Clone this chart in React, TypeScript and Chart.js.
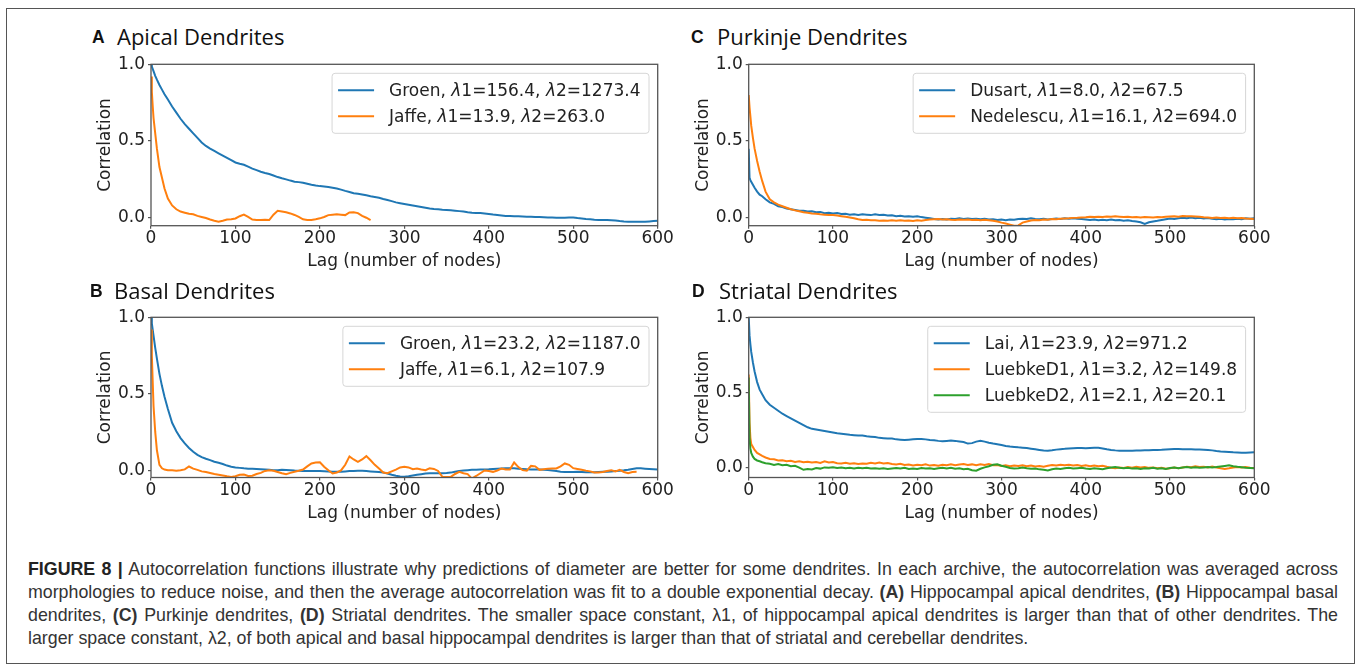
import React, { useEffect, useRef } from "react";
import { Chart, registerables } from "chart.js";

Chart.register(...registerables);

const BLUE = "#1f77b4";
const ORANGE = "#ff7f0e";
const GREEN = "#2ca02c";
const TEXT = "#222222";
const SPINE = "#555555";

// x positions (lag, number of nodes) shared by all series
const LAGS = [
  0, 1, 2, 3, 5, 7, 10, 13, 16, 20,
  25, 30, 35, 40, 45, 50, 55, 60, 65, 70,
  75, 80, 85, 90, 95, 100, 105, 110, 115, 120,
  125, 130, 135, 140, 145, 150, 155, 160, 165, 170,
  175, 180, 185, 190, 195, 200, 205, 210, 215, 220,
  225, 230, 235, 240, 245, 250, 255, 260, 265, 270,
  275, 280, 285, 290, 295, 300, 305, 310, 315, 320,
  325, 330, 335, 340, 345, 350, 355, 360, 365, 370,
  375, 380, 385, 390, 395, 400, 405, 410, 415, 420,
  425, 430, 435, 440, 445, 450, 455, 460, 465, 470,
  475, 480, 485, 490, 495, 500, 505, 510, 515, 520,
  525, 530, 535, 540, 545, 550, 555, 560, 565, 570,
  575, 580, 585, 590, 595, 600,
];

const X_TICKS = [0, 100, 200, 300, 400, 500, 600];
const Y_TICKS = [0, 0.5, 1.0];

// Panel A: Apical dendrites
const A_GROEN = [
  1.0, 0.985, 0.97, 0.955, 0.925, 0.9, 0.865, 0.835, 0.805, 0.77,
  0.725, 0.685, 0.645, 0.61, 0.58, 0.55, 0.52, 0.49, 0.468, 0.45,
  0.435, 0.42, 0.405, 0.39, 0.375, 0.36, 0.352, 0.345, 0.333, 0.32,
  0.31, 0.3, 0.292, 0.285, 0.275, 0.265, 0.257, 0.25, 0.242, 0.235,
  0.232, 0.228, 0.222, 0.215, 0.21, 0.206, 0.204, 0.2, 0.195, 0.19,
  0.183, 0.175, 0.168, 0.16, 0.156, 0.152, 0.146, 0.14, 0.135, 0.13,
  0.122, 0.115, 0.108, 0.1, 0.095, 0.09, 0.085, 0.08, 0.075, 0.07,
  0.065, 0.06, 0.057, 0.055, 0.052, 0.05, 0.048, 0.046, 0.043, 0.04,
  0.036, 0.033, 0.031, 0.03, 0.028, 0.025, 0.021, 0.018, 0.015, 0.012,
  0.011, 0.01, 0.009, 0.008, 0.007, 0.006, 0.005, 0.004, 0.003, 0.002,
  0.001, 0.0, 0.0, 0.0, 0.001, 0.002, -0.002, -0.005, -0.008, -0.01,
  -0.013, -0.015, -0.015, -0.015, -0.016, -0.018, -0.022, -0.025, -0.026, -0.027,
  -0.027, -0.027, -0.026, -0.024, -0.022, -0.02,
];
const A_JAFFE = [
  0.92, 0.82, 0.73, 0.65, 0.55, 0.45, 0.33, 0.26, 0.19, 0.125,
  0.08, 0.055, 0.04, 0.033, 0.026, 0.022, 0.012, 0.005, -0.002, -0.012,
  -0.02, -0.026, -0.02, -0.012, -0.01, -0.005, 0.01, 0.02, 0.005, -0.012,
  -0.015, -0.015, -0.014, -0.015, 0.02, 0.045, 0.04, 0.035, 0.028, 0.018,
  0.005, -0.01, -0.015, -0.015, -0.01, -0.004, 0.005, 0.017, 0.02, 0.022,
  0.02, 0.017, 0.034, 0.036, 0.03, 0.012, 0.0, -0.015,
];

// Panel B: Basal dendrites
const B_GROEN = [
  1.0, 0.96, 0.92, 0.88, 0.8, 0.73, 0.63, 0.55, 0.48, 0.4,
  0.31, 0.255, 0.21, 0.175, 0.145, 0.12, 0.1, 0.085, 0.075, 0.066,
  0.055, 0.048, 0.04, 0.03, 0.022, 0.018, 0.015, 0.012, 0.01, 0.01,
  0.008, 0.006, 0.004, 0.002, 0.0, 0.0, 0.002, 0.001, -0.001, -0.003,
  -0.004, -0.005, -0.005, -0.006, -0.006, -0.006, -0.007, -0.008, -0.01, -0.011,
  -0.01, -0.008, -0.006, -0.005, -0.004, -0.004, -0.006, -0.008, -0.01, -0.012,
  -0.016, -0.022, -0.03, -0.037, -0.042, -0.043, -0.04, -0.035, -0.03, -0.026,
  -0.022, -0.02, -0.02, -0.02, -0.02, -0.019, -0.016, -0.01, -0.005, -0.002,
  0.0, 0.002, 0.003, 0.004, 0.005, 0.006, 0.008, 0.01, 0.011, 0.012,
  0.012, 0.012, 0.01, 0.008, 0.006, 0.005, 0.004, 0.004, 0.003, 0.001,
  -0.002, -0.006, -0.01, -0.012, -0.012, -0.012, -0.011, -0.012, -0.013, -0.013,
  -0.013, -0.012, -0.011, -0.01, -0.008, -0.006, -0.004, -0.001, 0.003, 0.008,
  0.012, 0.012, 0.01, 0.008, 0.006, 0.004,
];
const B_JAFFE = [
  0.92, 0.75, 0.58, 0.42, 0.25, 0.13, 0.035, 0.012, 0.004, 0.0,
  0.0, -0.003, 0.0, 0.005, 0.024, 0.01, 0.002, -0.008, -0.012, -0.018,
  -0.025, -0.03, -0.035, -0.04, -0.044, -0.04, -0.03, -0.028, -0.038, -0.036,
  -0.025, -0.018, -0.005, 0.0, -0.004, -0.012, -0.02, -0.026, -0.018, -0.01,
  -0.004, 0.004, 0.025, 0.044, 0.05, 0.052, 0.022, 0.0, -0.022, -0.015,
  -0.002, 0.035, 0.09, 0.07, 0.055, 0.07, 0.092, 0.065, 0.035, 0.011,
  -0.015, -0.02, -0.008, 0.004, 0.018, 0.022, 0.018, 0.006, 0.011, 0.005,
  0.0, 0.012, 0.008, -0.005, -0.044, -0.045, -0.044, -0.025, -0.011, -0.02,
  -0.026, -0.055, -0.038, -0.02, -0.002, -0.005, -0.011, -0.002, 0.01, 0.004,
  0.005, 0.05, 0.02, 0.0, -0.004, 0.028, 0.025, 0.002, 0.006, 0.01,
  0.011, 0.011, 0.025, 0.044, 0.035, 0.013, 0.008, 0.003, -0.003, -0.008,
  -0.015, -0.016, -0.012, -0.006, 0.0, -0.008, 0.002, -0.012, -0.02, -0.012,
  -0.011,
];

// Panel C: Purkinje dendrites
const C_DUSART = [
  0.45, 0.26, 0.245, 0.235, 0.215, 0.195, 0.17, 0.15, 0.14, 0.12,
  0.1, 0.09, 0.075, 0.07, 0.06, 0.055, 0.05, 0.045, 0.046, 0.04,
  0.042, 0.036, 0.038, 0.03, 0.033, 0.028, 0.03, 0.024, 0.026, 0.02,
  0.023, 0.018, 0.022, 0.02, 0.017, 0.022, 0.018, 0.02, 0.014, 0.016,
  0.01, 0.013, 0.008, 0.01, 0.006, 0.01, 0.004, 0.0, -0.004, -0.008,
  -0.012, -0.008, -0.011, -0.006, -0.009, -0.004, -0.008, -0.005, -0.009, -0.006,
  -0.01, -0.007, -0.012, -0.01, -0.015, -0.012, -0.016, -0.011, -0.013, -0.009,
  -0.006, -0.009, -0.004, -0.008, -0.01, -0.007, -0.012, -0.008, -0.005, -0.009,
  -0.004, -0.007, -0.003, -0.006, -0.009, -0.012, -0.015, -0.011, -0.016, -0.013,
  -0.016, -0.012, -0.017, -0.015, -0.02, -0.017, -0.022, -0.025, -0.03, -0.04,
  -0.03, -0.024, -0.02, -0.015, -0.01, -0.005, -0.008, -0.003, 0.0, -0.004,
  0.001, -0.003, 0.0, -0.005, -0.002, -0.007, -0.01, -0.006, -0.011, -0.008,
  -0.01, -0.006, -0.01, -0.004, -0.007, -0.003,
];
const C_NEDELESCU = [
  0.8, 0.72, 0.66, 0.6, 0.52, 0.45, 0.37, 0.3, 0.24, 0.17,
  0.12, 0.1, 0.085, 0.075, 0.065, 0.055, 0.048, 0.042, 0.036, 0.032,
  0.028, 0.026, 0.022, 0.02, 0.018, 0.017, 0.014, 0.01, 0.006, 0.002,
  -0.004, -0.01, -0.015, -0.014, -0.017, -0.016, -0.019, -0.018, -0.02, -0.017,
  -0.019, -0.016, -0.02, -0.018, -0.021, -0.017, -0.019, -0.015, -0.012, -0.01,
  -0.009, -0.012, -0.01, -0.013, -0.015, -0.012, -0.014, -0.011, -0.015, -0.013,
  -0.016, -0.014, -0.017, -0.02, -0.025, -0.032, -0.038, -0.045, -0.052, -0.05,
  -0.032, -0.025, -0.018, -0.015, -0.016, -0.012, -0.013, -0.009, -0.01, -0.006,
  -0.005, -0.004, -0.001, 0.0, 0.002, 0.003, 0.006, 0.004, 0.007, 0.005,
  0.008, 0.006, 0.009, 0.007, 0.004, 0.006, 0.003, 0.005, 0.002, 0.004,
  0.003, 0.002, 0.005, 0.003, 0.006, 0.008, 0.01, 0.007, 0.011, 0.009,
  0.01, 0.008, 0.006, 0.003, 0.002, -0.001, 0.001, -0.002, 0.0, -0.003,
  -0.001, -0.004, -0.002, -0.005, -0.007, -0.009,
];

// Panel D: Striatal dendrites
const D_LAI = [
  1.0, 0.88, 0.82, 0.77, 0.7, 0.64, 0.57, 0.52, 0.49, 0.45,
  0.42, 0.4, 0.38, 0.36, 0.345, 0.33, 0.315, 0.3, 0.285, 0.27,
  0.26, 0.255, 0.25, 0.245, 0.24, 0.235, 0.23, 0.228, 0.224, 0.22,
  0.218, 0.215, 0.215, 0.21, 0.208, 0.205, 0.2, 0.198, 0.196, 0.195,
  0.19, 0.188, 0.186, 0.188, 0.19, 0.192, 0.193, 0.19, 0.186, 0.184,
  0.18, 0.178, 0.18, 0.182, 0.18, 0.176, 0.172, 0.162, 0.165, 0.175,
  0.18, 0.175, 0.168, 0.162, 0.158, 0.152, 0.146, 0.142, 0.14, 0.137,
  0.135, 0.132, 0.128, 0.124, 0.12, 0.116, 0.115, 0.118, 0.122, 0.125,
  0.127, 0.13, 0.131, 0.132, 0.132, 0.131, 0.133, 0.135, 0.134, 0.13,
  0.124, 0.12, 0.117, 0.115, 0.114, 0.115, 0.115, 0.116, 0.116, 0.117,
  0.118, 0.12, 0.12, 0.121, 0.123, 0.125, 0.126, 0.126, 0.125, 0.125,
  0.124, 0.123, 0.122, 0.121, 0.12, 0.117, 0.113, 0.11, 0.108, 0.106,
  0.104, 0.103, 0.102, 0.102, 0.103, 0.104,
];
const D_LUEBKE1 = [
  0.62, 0.3, 0.2, 0.16, 0.14, 0.12, 0.1, 0.09, 0.08, 0.07,
  0.06, 0.058, 0.05, 0.052, 0.045, 0.048, 0.04, 0.045, 0.038, 0.042,
  0.036, 0.04, 0.034, 0.044, 0.036, 0.04, 0.032, 0.03, 0.035, 0.028,
  0.032, 0.026, 0.03, 0.028, 0.034, 0.03, 0.036, 0.03, 0.033, 0.027,
  0.024, 0.028, 0.02, 0.023, 0.017, 0.022, 0.018, 0.024, 0.016, 0.02,
  0.015, 0.022, 0.018, 0.024, 0.019, 0.023, 0.026, 0.02, 0.024, 0.018,
  0.025, 0.02, 0.027, 0.018, 0.02, 0.014, 0.018, 0.012, 0.017, 0.013,
  0.018, 0.012, 0.016, 0.01, 0.014, 0.009, 0.015, 0.02, 0.016, 0.022,
  0.018, 0.022, 0.017, 0.02, 0.014, 0.018, 0.012, 0.017, 0.011, 0.015,
  0.008, 0.002, -0.002, 0.003, 0.0, 0.006, 0.002, 0.009, 0.004, 0.007,
  0.001, 0.004, -0.002, 0.002, -0.005, -0.002, 0.003, -0.001, 0.004, 0.008,
  0.005, 0.011, 0.006, 0.009, 0.004, 0.01, 0.003, -0.002, -0.006, -0.002,
  0.004, 0.007, 0.003, 0.006, 0.002, 0.0,
];
const D_LUEBKE2 = [
  0.6, 0.2, 0.13, 0.1, 0.075, 0.06, 0.05, 0.045, 0.038, 0.032,
  0.028, 0.02, 0.026, 0.018, 0.022, 0.012, 0.015, 0.003, -0.012, -0.006,
  -0.01, 0.0, -0.004, 0.004, 0.001, 0.005, 0.0, 0.003, -0.002, 0.001,
  -0.003, 0.002, -0.002, 0.001, -0.004, -0.001, -0.005, -0.002, -0.006, -0.003,
  0.0, -0.004, 0.001, -0.006, -0.003, -0.007, 0.0, -0.004, -0.002, -0.006,
  -0.001, 0.002, -0.003, 0.001, -0.005, -0.002, -0.008, -0.005, -0.015, -0.018,
  -0.005, 0.004, 0.012, 0.022, 0.025, 0.015, 0.008, 0.0, -0.004, -0.002,
  0.003, -0.002, -0.005, -0.003, -0.009, -0.012, -0.016, -0.008, -0.003, -0.006,
  -0.002, 0.001, -0.004, -0.001, 0.002, -0.003, -0.006, -0.002, -0.005, -0.008,
  -0.002, 0.003, 0.006, 0.001, -0.002, 0.002, -0.004, -0.001, -0.006, -0.002,
  -0.004, 0.001, -0.005, -0.002, -0.006, 0.0, 0.003, -0.001, 0.004, 0.006,
  0.002, 0.005, 0.001, 0.004, 0.007, 0.003, 0.006, 0.01, 0.014, 0.018,
  0.012, 0.008, 0.005, 0.002, 0.0, -0.002,
];

type Series = { label: string; values: number[]; color: string };
type Panel = {
  letter: string;
  title: string;
  ymin: number;
  series: Series[];
  l: number; t: number; r: number; b: number;
  letterX: number; titleX: number; baseline: number;
};

const PANELS: Panel[] = [
  {
    letter: "A", title: "Apical Dendrites", ymin: -0.052,
    series: [
      { label: "Groen, λ1=156.4, λ2=1273.4", values: A_GROEN, color: BLUE },
      { label: "Jaffe, λ1=13.9, λ2=263.0", values: A_JAFFE, color: ORANGE },
    ],
    l: 151, t: 64.3, r: 657.7, b: 225.7, letterX: 92, titleX: 117, baseline: 44,
  },
  {
    letter: "B", title: "Basal Dendrites", ymin: -0.048,
    series: [
      { label: "Groen, λ1=23.2, λ2=1187.0", values: B_GROEN, color: BLUE },
      { label: "Jaffe, λ1=6.1, λ2=107.9", values: B_JAFFE, color: ORANGE },
    ],
    l: 151, t: 317.3, r: 657.7, b: 477.5, letterX: 90, titleX: 114, baseline: 298,
  },
  {
    letter: "C", title: "Purkinje Dendrites", ymin: -0.052,
    series: [
      { label: "Dusart, λ1=8.0, λ2=67.5", values: C_DUSART, color: BLUE },
      { label: "Nedelescu, λ1=16.1, λ2=694.0", values: C_NEDELESCU, color: ORANGE },
    ],
    l: 748.7, t: 64.3, r: 1254.3, b: 225.7, letterX: 691, titleX: 717, baseline: 44,
  },
  {
    letter: "D", title: "Striatal Dendrites", ymin: -0.063,
    series: [
      { label: "Lai, λ1=23.9, λ2=971.2", values: D_LAI, color: BLUE },
      { label: "LuebkeD1, λ1=3.2, λ2=149.8", values: D_LUEBKE1, color: ORANGE },
      { label: "LuebkeD2, λ1=2.1, λ2=20.1", values: D_LUEBKE2, color: GREEN },
    ],
    l: 748.7, t: 317.3, r: 1254.3, b: 477.5, letterX: 692, titleX: 719, baseline: 298,
  },
];

const FONT_FAMILY = '"DejaVu Sans", sans-serif';
const FONT_SIZE = 17;
const HALF_LINE = (FONT_SIZE * 1.2) / 2;
const Y_SCALE_W = 45 + HALF_LINE;
const X_SCALE_H = 36 + HALF_LINE;
const LINE_W = 2;

const frameLegendPlugin = {
  id: "frameLegend",
  afterDatasetsDraw(chart: any) {
    const { ctx, chartArea: ca } = chart;
    ctx.save();
    ctx.strokeStyle = SPINE;
    ctx.lineWidth = 1.3;
    ctx.strokeRect(ca.left, ca.top, ca.right - ca.left, ca.bottom - ca.top);

    const ds = chart.data.datasets;
    const reg = `${FONT_SIZE}px ${FONT_FAMILY}`;
    const ita = `oblique ${FONT_SIZE}px ${FONT_FAMILY}`;
    const partsOf = (s: string) => s.split(/(λ)/).filter((p) => p.length > 0);
    const widthOf = (s: string) =>
      partsOf(s).reduce((w, p) => {
        ctx.font = p === "λ" ? ita : reg;
        return w + ctx.measureText(p).width;
      }, 0);
    const tw = Math.max(...ds.map((d: any) => widthOf(d.label)));
    const n = ds.length;
    const pad = 17;
    const gap = 26;
    const boxW = 6 + 36 + 15 + tw + 8.5;
    const boxH = 2 * pad + gap * (n - 1);
    const right = ca.right - 8.7;
    const top = ca.top + 9;
    const left = right - boxW;
    ctx.beginPath();
    ctx.roundRect(left, top, boxW, boxH, 3);
    ctx.fillStyle = "rgba(255,255,255,0.8)";
    ctx.fill();
    ctx.strokeStyle = "#d6d6d6";
    ctx.lineWidth = 1;
    ctx.stroke();
    ds.forEach((d: any, i: number) => {
      const y = top + pad + gap * i;
      ctx.beginPath();
      ctx.moveTo(left + 6, y);
      ctx.lineTo(left + 42, y);
      ctx.strokeStyle = d.borderColor;
      ctx.lineWidth = LINE_W;
      ctx.stroke();
      let x = left + 57;
      ctx.fillStyle = TEXT;
      ctx.textBaseline = "middle";
      ctx.textAlign = "left";
      partsOf(d.label).forEach((p) => {
        ctx.font = p === "λ" ? ita : reg;
        ctx.fillText(p, x, y + 1);
        x += ctx.measureText(p).width;
      });
    });
    ctx.restore();
  },
};

function PanelChart({ p }: { p: Panel }) {
  const ref = useRef<HTMLCanvasElement | null>(null);
  const cl = Math.floor(p.l - 75);
  const ct = Math.floor(p.t - 14);
  const cw = Math.ceil(p.r + 24) - cl;
  const ch = Math.ceil(p.b + 56) - ct;
  const padL = p.l - Y_SCALE_W - cl;
  const padT = p.t - ct;
  const padR = cl + cw - p.r;
  const padB = ct + ch - (p.b + X_SCALE_H);

  useEffect(() => {
    const font = { family: FONT_FAMILY, size: FONT_SIZE };
    const chart = new Chart(ref.current as HTMLCanvasElement, {
      type: "line",
      data: {
        datasets: p.series.map((s, i) => ({
          label: s.label,
          data: s.values.map((y, j) => ({ x: LAGS[j], y })),
          borderColor: s.color,
          backgroundColor: s.color,
          borderWidth: LINE_W,
          pointRadius: 0,
          tension: 0,
          fill: false,
          order: -i,
        })),
      },
      options: {
        responsive: false,
        animation: false,
        devicePixelRatio: 1,
        layout: { padding: { left: padL, top: padT, right: padR, bottom: padB } },
        plugins: {
          legend: { display: false },
          tooltip: { enabled: false },
          title: { display: false },
        },
        scales: {
          x: {
            type: "linear",
            min: 0,
            max: 600,
            afterBuildTicks: (s: any) => {
              s.ticks = X_TICKS.map((v) => ({ value: v }));
            },
            afterFit: (s: any) => {
              s.height = X_SCALE_H;
            },
            grid: {
              display: true,
              drawOnChartArea: false,
              drawTicks: true,
              tickLength: 3,
              color: SPINE,
              lineWidth: 1.2,
            },
            border: { display: false },
            ticks: {
              font,
              color: TEXT,
              padding: 0,
              maxRotation: 0,
              autoSkip: false,
              callback: (v: any) => String(v),
            },
            title: {
              display: true,
              text: "Lag (number of nodes)",
              font,
              color: TEXT,
              padding: 0,
            },
          },
          y: {
            type: "linear",
            min: p.ymin,
            max: 1.0,
            afterBuildTicks: (s: any) => {
              s.ticks = Y_TICKS.map((v) => ({ value: v }));
            },
            afterFit: (s: any) => {
              s.width = Y_SCALE_W;
            },
            grid: {
              display: true,
              drawOnChartArea: false,
              drawTicks: true,
              tickLength: 3,
              color: SPINE,
              lineWidth: 1.2,
            },
            border: { display: false },
            ticks: {
              font,
              color: TEXT,
              padding: 3,
              callback: (v: any) => Number(v).toFixed(1),
            },
            title: {
              display: true,
              text: "Correlation",
              font,
              color: TEXT,
              padding: 0,
            },
          },
        },
      } as any,
      plugins: [frameLegendPlugin],
    });
    return () => chart.destroy();
  }, []);

  return (
    <canvas
      ref={ref}
      width={cw}
      height={ch}
      style={{ position: "absolute", left: cl, top: ct, width: cw, height: ch }}
    />
  );
}

function PanelTitle({ p }: { p: Panel }) {
  return (
    <>
      <div
        style={{
          position: "absolute",
          left: p.letterX,
          top: p.baseline - 14.8,
          fontFamily: '"Liberation Sans", Arial, sans-serif',
          fontWeight: 700,
          fontSize: 17.5,
          lineHeight: "17.5px",
          color: "#111",
          whiteSpace: "nowrap",
        }}
      >
        {p.letter}
      </div>
      <div
        style={{
          position: "absolute",
          left: p.titleX,
          top: p.baseline - 19.5,
          fontFamily: '"Open Sans", sans-serif',
          fontSize: 22,
          lineHeight: "22px",
          color: "#111",
          whiteSpace: "nowrap",
        }}
      >
        {p.title}
      </div>
    </>
  );
}

const lineStyle: React.CSSProperties = {
  textAlign: "justify",
  textAlignLast: "justify" as any,
  height: 23,
};

export default function App() {
  return (
    <div
      style={{
        position: "absolute",
        left: 0,
        top: 0,
        width: 1357,
        height: 664,
        background: "#fff",
        overflow: "hidden",
      }}
    >
      <div
        style={{
          position: "absolute",
          left: 6,
          top: 8,
          width: 1349,
          height: 656,
          border: "1.5px solid #555",
          boxSizing: "border-box",
        }}
      />
      {PANELS.map((p) => (
        <React.Fragment key={p.letter}>
          <PanelTitle p={p} />
          <PanelChart p={p} />
        </React.Fragment>
      ))}
      <div
        style={{
          position: "absolute",
          left: 28,
          top: 558,
          width: 1310,
          fontFamily: '"Liberation Sans", Arial, sans-serif',
          fontSize: 17.8,
          lineHeight: "23px",
          color: "#333",
        }}
      >
        <div style={lineStyle}>
          <b style={{ color: "#222" }}>FIGURE 8 |</b> Autocorrelation functions illustrate why predictions of
          diameter are better for some dendrites. In each archive, the autocorrelation was averaged across
        </div>
        <div style={lineStyle}>
          morphologies to reduce noise, and then the average autocorrelation was fit to a double exponential
          decay. <b>(A)</b> Hippocampal apical dendrites, <b>(B)</b> Hippocampal basal
        </div>
        <div style={lineStyle}>
          dendrites, <b>(C)</b> Purkinje dendrites, <b>(D)</b> Striatal dendrites. The smaller space constant,
          λ1, of hippocampal apical dendrites is larger than that of other dendrites. The
        </div>
        <div style={{ height: 23, whiteSpace: "nowrap" }}>
          larger space constant, λ2, of both apical and basal hippocampal dendrites is larger than that of
          striatal and cerebellar dendrites.
        </div>
      </div>
    </div>
  );
}
